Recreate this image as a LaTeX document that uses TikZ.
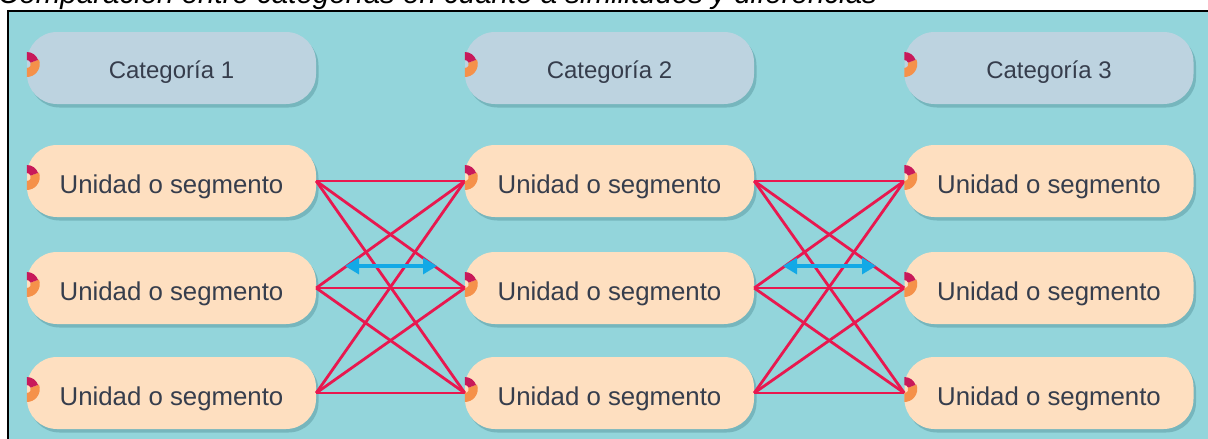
\documentclass[tikz,border=0pt]{standalone}
\usepackage{fontspec}
\setmainfont{Liberation Sans}
\usetikzlibrary{arrows.meta,shadows,calc}
\definecolor{bgteal}{HTML}{93D5DB}
\definecolor{catfill}{HTML}{BDD3E0}
\definecolor{unitfill}{HTML}{FEDFC0}
\definecolor{linkred}{HTML}{E8184F}
\definecolor{arrowblue}{HTML}{12A9E6}
\definecolor{txtdark}{HTML}{363D4C}
\definecolor{shadowteal}{HTML}{5A98A0}
\definecolor{mkorange}{HTML}{F5914A}
\definecolor{mkcrimson}{HTML}{C8195A}
\tikzset{
  boxbase/.style={rounded corners=30pt, minimum width=289pt, minimum height=72pt,
    inner sep=0pt, text=txtdark, text depth=0pt,
    drop shadow={shadow xshift=2.5pt, shadow yshift=-3.5pt, fill=shadowteal, opacity=0.5}},
  catbox/.style={boxbase, fill=catfill, font=\fontsize{24}{28}\selectfont, text height=21pt},
  unitbox/.style={boxbase, fill=unitfill, font=\fontsize{25.8}{30}\selectfont, text height=24pt},
  linkline/.style={draw=linkred, line width=2.8pt},
  simarrow/.style={draw=arrowblue, line width=3.2pt,
    {Triangle[length=14pt,width=16pt]}-{Triangle[length=14pt,width=16pt]}},
}
\newcommand{\mymarker}[1]{%
  \coordinate (mk) at ($(#1.west)+(0,-4)$);
  \fill[mkorange] ($(mk)+(20:4pt)$) -- ($(mk)+(20:13pt)$) arc[start angle=20,end angle=-90,radius=13pt]
     -- ($(mk)+(-90:4pt)$) arc[start angle=-90,end angle=20,radius=4pt] -- cycle;
  \fill[mkcrimson] ($(mk)+(90:4pt)$) -- ($(mk)+(90:12pt)$) arc[start angle=90,end angle=20,radius=12pt]
     -- ($(mk)+(20:4pt)$) arc[start angle=20,end angle=90,radius=4pt] -- cycle;
}
\begin{document}
\begin{tikzpicture}[x=1pt,y=-1pt]
\useasboundingbox (0,0) rectangle (1208,439);
\clip (0,0) rectangle (1208,439);
% frame and background
\fill[bgteal] (8,11) rectangle (1220,450);
\draw[black, line width=2pt] (8,450) -- (8,11) -- (1220,11);
% title (cut off at the top)
\node[anchor=base west, inner sep=0pt, font=\fontsize{29.5}{34}\selectfont\itshape] (title) at (-2,3)
  {Comparación entre categorías en cuanto a similitudes y diferencias};
% category boxes
\node[catbox] (c1) at (171.5,68) {Categoría 1};
\node[catbox] (c2) at (609.5,68) {Categoría 2};
\node[catbox] (c3) at (1049,68) {Categoría 3};
% unit boxes
\foreach \r/\yy in {1/181,2/288,3/393}{
  \node[unitbox] (a\r) at (171.5,\yy) {Unidad o segmento};
  \node[unitbox] (b\r) at (609.5,\yy) {Unidad o segmento};
  \node[unitbox] (d\r) at (1049,\yy) {Unidad o segmento};
}
% links
\foreach \i in {1,2,3}{
  \foreach \j in {1,2,3}{
    \draw[linkline] (a\i.east) -- (b\j.west);
    \draw[linkline] (b\i.east) -- (d\j.west);
  }
}
% similarity arrows
\coordinate (s1l) at (345,266);
\coordinate (s1r) at (437,266);
\coordinate (s2l) at (783,266);
\coordinate (s2r) at (876,266);
\draw[simarrow] (s1l) -- (s1r);
\draw[simarrow] (s2l) -- (s2r);
% markers
\foreach \n in {c1,c2,c3,a1,a2,a3,b1,b2,b3,d1,d2,d3}{
  \mymarker{\n}
}
\end{tikzpicture}
\end{document}
